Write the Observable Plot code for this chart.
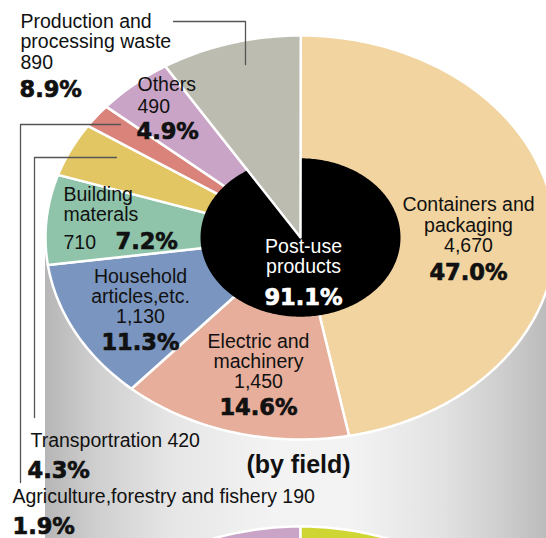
<!DOCTYPE html>
<html><head><meta charset="utf-8">
<script src="https://cdn.jsdelivr.net/npm/d3@7"></script>
<script src="https://cdn.jsdelivr.net/npm/@observablehq/plot@0.6"></script>
<style>body{margin:0;background:#fff} svg{display:block}</style>
</head><body><div id="chart"></div>
<script>
// ---- data ----
const fields = ["Containers and\npackaging", "Electric and\nmachinery", "Household\narticles,etc.", "Building\nmaterals", "Transportration", "Agriculture,forestry and fishery", "Others", "Production and\nprocessing waste"];
const amounts = [4670, 1450, 1130, 710, 420, 190, 490, 890];
const shares = [47.0, 14.6, 11.3, 7.2, 4.3, 1.9, 4.9, 8.9];
const colors = ["#f1d4a0", "#e6ae9b", "#7a95bf", "#8fc4ab", "#e2c664", "#d9837a", "#c9a4c6", "#bcbdb0"];
const centerLabel = ["Post-use", "products"];
const postUseShare = 91.1;
const subtitle = "(by field)";
// next pie (only its top edge is visible): pink slice before 12 o'clock, green after
const lowerShares = [10, 16];
const lowerColors = ["#c9a4c6", "#cfd532"];

// ---- layout ----
const W = 546, H = 538;
const cx = 300, cy = 237, R = 255, K = 202 / 255, rIn = 100;
const lowerCy = cy + 491;
const pt = (a, r, c = cy) => ({x: cx + r * Math.sin(a), y: c - r * K * Math.cos(a)});
const total = d3.sum(shares);

function wedge(id, a0, a1, r, c = cy) {
  const n = Math.max(2, Math.ceil((a1 - a0) / (Math.PI / 180)));
  const pts = [{id, ...pt(0, 0, c)}];
  for (let i = 0; i <= n; i++) pts.push({id, ...pt(a0 + (a1 - a0) * i / n, r, c)});
  return pts;
}
let acc = 0;
const slices = shares.map((s, i) => {
  const a0 = acc / total * 2 * Math.PI; acc += s;
  const a1 = acc / total * 2 * Math.PI;
  return {i, a0, a1};
});
const mainRows = slices.slice(0, 7).flatMap(s => wedge(s.i, s.a0, s.a1, R));
const grayRows = wedge(7, slices[7].a0, slices[7].a1 + 0.001, R);
const blackRows = wedge(8, 0, postUseShare / 100 * 2 * Math.PI, rIn);
let la = -lowerShares[0] / 100 * 2 * Math.PI;
const lowerRows = lowerShares.flatMap((s, j) => {
  const a0 = la; la += s / 100 * 2 * Math.PI;
  return wedge(10 + j, a0, la, R, lowerCy);
});
const fillOf = id => id < 8 ? colors[id] : id === 8 ? "#000" : lowerColors[id - 10];

const fmt = d3.format(",");
const pct = i => shares[i].toFixed(1) + "%";
const lines = i => fields[i].split("\n");
const FS = 19.5, PS = 22.5;
// text rows: t, x, baseline y, anchor, kind
const T = [];
function add(t, x, y, anchor, kind = "n", fill = "#111") { T.push({t, x, y, anchor, kind, fill}); }
// Containers
lines(0).forEach((l, k) => add(l, 468, 210 + 21 * k, "middle"));
add(fmt(amounts[0]), 468, 251.5, "middle"); add(pct(0), 468, 279, "middle", "p");
// Electric
lines(1).forEach((l, k) => add(l, 258, 347 + 20 * k, "middle"));
add(fmt(amounts[1]), 258, 387.5, "middle"); add(pct(1), 258, 414, "middle", "p");
// Household
lines(2).forEach((l, k) => add(l, 140, 282 + 20 * k, "middle"));
add(fmt(amounts[2]), 140, 322, "middle"); add(pct(2), 140, 349, "middle", "p");
// Building
lines(3).forEach((l, k) => add(l, 63, 200 + 20 * k, "start"));
add(fmt(amounts[3]), 63, 248, "start"); add(pct(3), 115, 248, "start", "p");
// Transportation
add(lines(4)[0] + " " + fmt(amounts[4]), 30, 446, "start"); add(pct(4), 27, 477, "start", "p");
// Agriculture
add(lines(5)[0] + " " + fmt(amounts[5]), 12, 502, "start"); add(pct(5), 12, 533, "start", "p");
// Others
add(lines(6)[0], 137, 90, "start"); add(fmt(amounts[6]), 137, 112, "start"); add(pct(6), 136, 138, "start", "p");
// Production waste
lines(7).forEach((l, k) => add(l, 20, 27 + 20.5 * k, "start"));
add(fmt(amounts[7]), 20, 68, "start"); add(pct(7), 19, 96, "start", "p");
// center
centerLabel.forEach((l, k) => add(l, 303, 252.5 + 19.8 * k, "middle", "n", "#fff"));
add(postUseShare.toFixed(1) + "%", 303, 304, "middle", "p", "#fff");
// subtitle
add(subtitle, 298, 472, "middle", "s");

const leaders = [
  [{x: 173, y: 21}, {x: 245, y: 21}, {x: 245, y: 64}].map(p => ({...p, g: 0})),
  [{x: 120, y: 124}, {x: 20, y: 124}, {x: 20, y: 482}].map(p => ({...p, g: 1})),
  [{x: 116, y: 157}, {x: 34, y: 157}, {x: 34, y: 417}].map(p => ({...p, g: 2}))
].flat();

const fonts = {
  n: {fontSize: FS, fontFamily: "Liberation Sans, Arial, sans-serif", letterSpacing: 0.65},
  p: {fontSize: PS, fontFamily: "DejaVu Sans, sans-serif", fontWeight: "bold", letterSpacing: -0.6, strokeWidth: 0.7},
  s: {fontSize: 25, fontFamily: "Liberation Sans, Arial, sans-serif", fontWeight: "bold", letterSpacing: 0.6}
};
const textMarks = [];
for (const kind of ["n", "p", "s"]) for (const anchor of ["start", "middle"]) {
  const rows = T.filter(d => d.kind === kind && d.anchor === anchor);
  if (!rows.length) continue;
  const o = fonts[kind];
  const extra = kind === "p" ? {stroke: "fill"} : {};
  textMarks.push(Plot.text(rows, {x: "x", y: d => d.y - 0.32 * o.fontSize, text: "t", textAnchor: anchor, fill: "fill", ...extra, ...o}));
}

const chart = Plot.plot({
  width: W, height: H, margin: 0,
  x: {domain: [0, W], range: [0, W], axis: null},
  y: {domain: [0, H], range: [0, H], axis: null},
  color: {type: "identity"},
  style: {background: "#fff"},
  marks: [
    Plot.rect([0], {x1: cx - R, x2: cx + R, y1: cy, y2: H, fill: "url(#cyl)"}),
    Plot.line(lowerRows, {x: "x", y: "y", z: "id", fill: d => fillOf(d.id), stroke: "#fff", strokeWidth: 2.5, curve: "linear-closed"}),
    Plot.line(mainRows, {x: "x", y: "y", z: "id", fill: d => fillOf(d.id), stroke: "#fff", strokeWidth: 2.5, strokeLinejoin: "round", curve: "linear-closed"}),
    Plot.line(blackRows, {x: "x", y: "y", z: "id", fill: "#000", stroke: "none", curve: "linear-closed"}),
    Plot.line(grayRows, {x: "x", y: "y", z: "id", fill: d => fillOf(d.id), stroke: "#fff", strokeWidth: 2.5, curve: "linear-closed"}),
    Plot.line(leaders, {x: "x", y: "y", z: "g", stroke: "#555", strokeWidth: 1.3}),
    ...textMarks
  ]
});
// gradient for the cylinder body under the pie
const defs = d3.create("svg:defs");
const g = defs.append("linearGradient").attr("id", "cyl").attr("x1", "0").attr("x2", "1").attr("y1", "0").attr("y2", "0");
[[0, "#b6b6b6"], [0.1, "#cfcfcf"], [0.25, "#e6e6e6"], [0.45, "#f3f3f3"], [0.6, "#f3f3f3"], [0.78, "#e2e2e2"], [0.9, "#cdcdcd"], [1, "#b8b8b8"]]
  .forEach(([o, c]) => g.append("stop").attr("offset", o).attr("stop-color", c));
chart.insertBefore(defs.node(), chart.firstChild);
document.getElementById("chart").append(chart);
</script>
</body></html>
